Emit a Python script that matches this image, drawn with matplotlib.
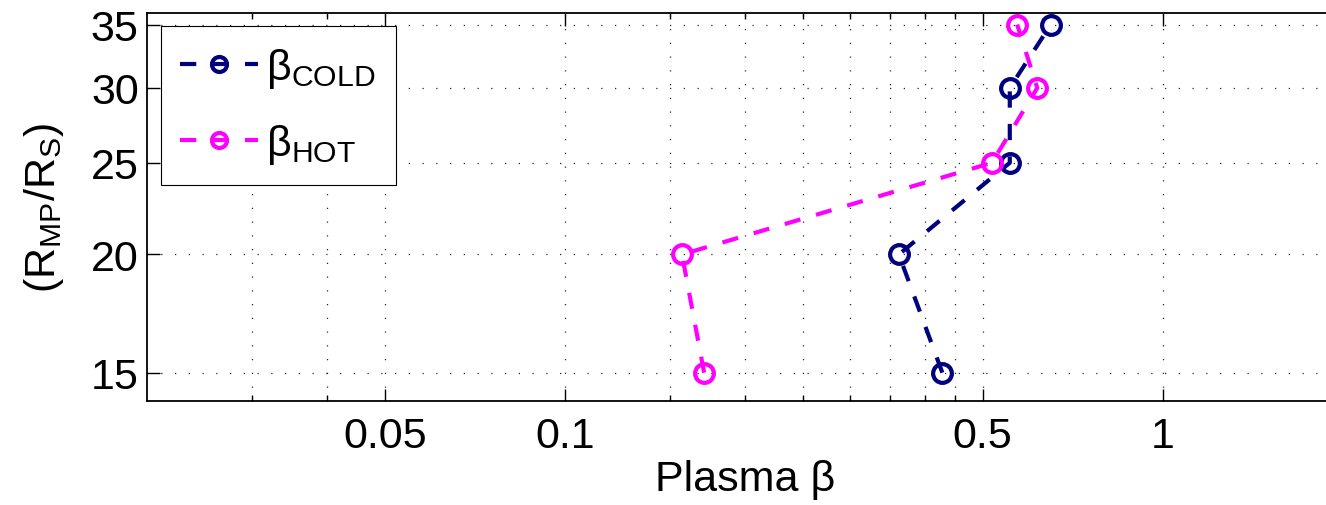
import numpy as np
import matplotlib as mpl

mpl.use('Agg')

import matplotlib.pyplot as plt
from matplotlib.ticker import FixedLocator, NullFormatter, NullLocator

plt.rcParams['font.family'] = ['Liberation Sans', 'DejaVu Sans']
plt.rcParams['mathtext.fontset'] = 'custom'
plt.rcParams['mathtext.rm'] = 'Liberation Sans'
plt.rcParams['mathtext.it'] = 'Liberation Sans:italic'
plt.rcParams['mathtext.bf'] = 'Liberation Sans:bold'

# data
r_mp = [15, 20, 25, 30, 35]  # magnetopause distance (R_S)
beta_cold = [0.428, 0.362, 0.555, 0.555, 0.650]
beta_hot = [0.171, 0.157, 0.518, 0.617, 0.571]

x_major = [0.05, 0.1, 0.5, 1]
x_major_labels = ['0.05', '0.1', '0.5', '1']
x_minor = [0.03, 0.04, 0.15, 0.2, 0.25, 0.3, 0.35, 0.4, 0.45]
y_ticks = [15, 20, 25, 30, 35]

cold_color = '#000080'
hot_color = '#FF00FF'
fs = 31

fig = plt.figure(figsize=(13.26, 5.06), dpi=100)
ax = fig.add_axes([147 / 1326, 104 / 506, (1342.6 - 147) / 1326, 388 / 506])

ax.set_xscale('log')
ax.set_yscale('log')

line_kw = dict(lw=3, ls='--', dashes=(3.9, 3.9), marker='o', ms=13.5, mew=3,
               mfc='none', dash_capstyle='butt')
ax.plot(beta_cold, r_mp, color=cold_color, label=r'β$_{\mathrm{COLD}}$', **line_kw)
ax.plot(beta_hot, r_mp, color=hot_color, label=r'β$_{\mathrm{HOT}}$', **line_kw)

ax.set_xlim(0.02, 2)
ax.set_ylim(14, 36)

ax.xaxis.set_major_locator(FixedLocator(x_major))
ax.set_xticklabels(x_major_labels)
ax.xaxis.set_minor_locator(FixedLocator(x_minor))
ax.xaxis.set_minor_formatter(NullFormatter())
ax.yaxis.set_major_locator(FixedLocator(y_ticks))
ax.set_yticklabels([str(v) for v in y_ticks])
ax.yaxis.set_minor_locator(NullLocator())

ax.tick_params(which='both', direction='in', top=True, right=True, width=1.0, color='black')
ax.tick_params(which='major', length=9, labelsize=fs)
ax.tick_params(axis='x', which='major', pad=11)
ax.tick_params(axis='y', which='major', pad=6)
ax.tick_params(which='minor', length=4.5)

grid_kw = dict(color='0.15', lw=0.9, ls=(0, (1, 10)))
ax.grid(True, which='major', axis='both', **grid_kw)
ax.grid(True, which='minor', axis='x', **grid_kw)

for s in ax.spines.values():
    s.set_linewidth(1.3)

ax.set_xlabel('Plasma β', fontsize=fs, labelpad=2)
ax.set_ylabel(r'(R$_{\mathrm{MP}}$/R$_{\mathrm{S}}$)', fontsize=fs)
ax.yaxis.set_label_coords(-0.068, 0.5)

leg = ax.legend(loc='upper left', bbox_to_anchor=(13.5 / 1195.6, 1 - 13 / 388),
                borderaxespad=0, fontsize=fs, handlelength=1.8, handletextpad=0.2,
                borderpad=0.46, labelspacing=0.74, markerscale=0.8,
                fancybox=False, framealpha=1)
leg.get_frame().set_edgecolor('black')
leg.get_frame().set_linewidth(0.8)

fig.savefig('out.png', dpi=100)
